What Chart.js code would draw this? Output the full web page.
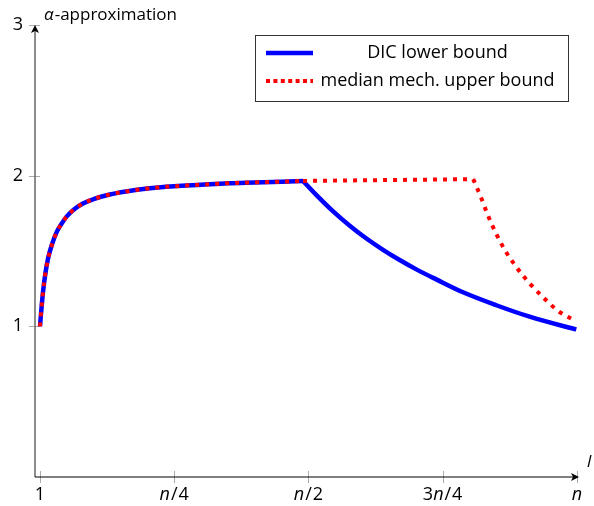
<!DOCTYPE html>
<html>
<head>
<meta charset="utf-8">
<script src="https://cdn.jsdelivr.net/npm/chart.js@4.4.1/dist/chart.umd.min.js"></script>
<style>
  html, body { margin: 0; padding: 0; background: #fff; }
</style>
</head>
<body>
<canvas id="chart" width="594" height="506"></canvas>
<script>
// x runs from 1 (0) to n (1); both bounds share the rising part
const riseX = [0, 0.003, 0.006, 0.01, 0.015, 0.022, 0.031, 0.04, 0.05, 0.065, 0.08, 0.1, 0.13, 0.16, 0.2, 0.25, 0.3, 0.35, 0.4, 0.45, 0.49];
const riseY = [1.0, 1.13, 1.24, 1.35, 1.45, 1.54, 1.625, 1.68, 1.73, 1.78, 1.815, 1.845, 1.875, 1.895, 1.915, 1.93, 1.94, 1.95, 1.955, 1.96, 1.965];
// DIC lower bound after the peak
const lowerFallX = [0.49, 0.515, 0.546, 0.577, 0.608, 0.639, 0.67, 0.701, 0.739, 0.788, 0.85, 0.912, 0.974, 0.999];
const lowerFallY = [1.965, 1.871, 1.763, 1.668, 1.583, 1.508, 1.44, 1.378, 1.31, 1.226, 1.14, 1.064, 1.002, 0.98];
// median mechanism upper bound after the peak
const upperFlatX = [0.49, 0.65, 0.807];
const upperFlatY = [1.965, 1.971, 1.977];
const upperFallX = [0.807, 0.821, 0.834, 0.849, 0.867, 0.888, 0.912, 0.938, 0.966, 0.998];
const upperFallY = [1.977, 1.86, 1.74, 1.62, 1.50, 1.39, 1.285, 1.19, 1.10, 1.035];

const seriesNames = ['DIC lower bound', 'median mech. upper bound'];
const xTickValues = [0, 0.25, 0.5, 0.75, 1];
const xTickLabels = ['1', 'n/4', 'n/2', '3n/4', 'n'];
const yTickValues = [1, 2, 3];
const yAxisTitle = ['α', '-approximation'];
const xAxisTitle = 'l';

const FONT = '"Open Sans", sans-serif';
const BLUE = '#0000ff';
const RED = '#ff0000';

function toPoints(xs, ys) {
  return xs.map((v, i) => ({ x: v, y: ys[i] }));
}

function lowerSet(xs, ys) {
  return {
    label: seriesNames[0],
    data: toPoints(xs, ys),
    borderColor: BLUE,
    borderWidth: 4.5,
    borderJoinStyle: 'round',
    pointRadius: 0,
    fill: false,
    cubicInterpolationMode: 'monotone',
    order: 1
  };
}

function upperSet(xs, ys) {
  return {
    label: seriesNames[1],
    data: toPoints(xs, ys),
    borderColor: RED,
    borderWidth: 4,
    borderDash: [4, 6],
    borderCapStyle: 'butt',
    pointRadius: 0,
    fill: false,
    cubicInterpolationMode: 'monotone',
    order: 0
  };
}

function arrowHead(ctx, x, y, dir) {
  ctx.save();
  ctx.translate(x, y);
  if (dir === 'up') ctx.rotate(-Math.PI / 2);
  ctx.fillStyle = '#000';
  ctx.beginPath();
  ctx.moveTo(0, 0);
  ctx.lineTo(-8, -4);
  ctx.lineTo(-6, 0);
  ctx.lineTo(-8, 4);
  ctx.closePath();
  ctx.fill();
  ctx.restore();
}

// label with every "n" in italic
function mixedLabel(ctx, text, cx, cy) {
  const parts = text.split('').map(ch => ({ ch: ch, it: ch === 'n' }));
  const fontFor = p => (p.it ? 'italic ' : '') + '18px ' + FONT;
  let w = 0;
  parts.forEach(p => { ctx.font = fontFor(p); p.w = ctx.measureText(p.ch).width + (p.ch === '/' ? 2 : 0); w += p.w; });
  let px = cx - w / 2;
  ctx.textAlign = 'left';
  ctx.textBaseline = 'middle';
  parts.forEach(p => {
    ctx.font = fontFor(p);
    ctx.fillText(p.ch, px + (p.ch === '/' ? 1 : 0), cy);
    px += p.w;
  });
}

const axesPlugin = {
  id: 'axesPlugin',
  beforeDatasetsDraw(chart) {
    const { ctx, chartArea: a, scales: { x, y } } = chart;
    const yBase = y.getPixelForValue(0);
    const xBase = a.left;
    ctx.save();

    // tick marks crossing the axes
    ctx.strokeStyle = '#aaa';
    ctx.lineWidth = 1;
    xTickValues.forEach(v => {
      const px = Math.round(x.getPixelForValue(v)) + 0.5;
      ctx.beginPath(); ctx.moveTo(px, yBase - 6); ctx.lineTo(px, yBase + 6); ctx.stroke();
    });
    yTickValues.forEach(v => {
      const py = Math.round(y.getPixelForValue(v)) + 0.5;
      ctx.beginPath(); ctx.moveTo(xBase - 6, py); ctx.lineTo(xBase + 5, py); ctx.stroke();
    });

    // axis lines
    ctx.strokeStyle = '#666';
    ctx.lineWidth = 1.5;
    ctx.beginPath(); ctx.moveTo(xBase, yBase); ctx.lineTo(xBase, a.top + 2); ctx.stroke();
    ctx.strokeStyle = '#000';
    ctx.lineWidth = 1.2;
    ctx.beginPath(); ctx.moveTo(xBase, yBase); ctx.lineTo(a.right - 2, yBase); ctx.stroke();
    arrowHead(ctx, a.right, yBase, 'right');
    arrowHead(ctx, xBase, a.top, 'up');

    // x tick labels
    ctx.fillStyle = '#000';
    xTickValues.forEach((v, i) => {
      mixedLabel(ctx, xTickLabels[i], x.getPixelForValue(v), yBase + 18);
    });

    // axis titles
    ctx.textAlign = 'left';
    ctx.textBaseline = 'middle';
    ctx.font = 'italic 17px ' + FONT;
    ctx.fillText(yAxisTitle[0], xBase + 9, a.top - 10);
    const aw = ctx.measureText(yAxisTitle[0]).width;
    ctx.font = '17px ' + FONT;
    ctx.fillText(yAxisTitle[1], xBase + 9 + aw + 1, a.top - 10);
    ctx.font = 'italic 17px ' + FONT;
    ctx.fillText(xAxisTitle, a.right + 8, yBase - 15);
    ctx.restore();
  },
  afterDraw(chart) {
    const { ctx } = chart;
    ctx.save();
    ctx.fillStyle = '#fff';
    ctx.fillRect(255, 35, 313, 66);
    ctx.strokeStyle = '#333';
    ctx.lineWidth = 1;
    ctx.strokeRect(255.5, 35.5, 313, 66);
    const rows = [53, 81];
    const styles = [
      { color: BLUE, width: 4.5, dash: [] },
      { color: RED, width: 4, dash: [4, 3.4] }
    ];
    seriesNames.forEach((name, r) => {
      const s = styles[r];
      const ry = rows[r];
      ctx.strokeStyle = s.color;
      ctx.lineWidth = s.width;
      ctx.setLineDash(s.dash);
      ctx.beginPath(); ctx.moveTo(266, ry); ctx.lineTo(313, ry); ctx.stroke();
      ctx.setLineDash([]);
      ctx.fillStyle = '#000';
      ctx.font = '18px ' + FONT;
      ctx.textAlign = 'center';
      ctx.textBaseline = 'middle';
      ctx.fillText(name, 437.5, ry);
    });
    ctx.restore();
  }
};

const ctx = document.getElementById('chart').getContext('2d');
const chart = new Chart(ctx, {
  type: 'line',
  data: {
    datasets: [
      upperSet(riseX, riseY),
      upperSet(upperFlatX, upperFlatY),
      upperSet(upperFallX, upperFallY),
      lowerSet(riseX, riseY),
      lowerSet(lowerFallX, lowerFallY)
    ]
  },
  options: {
    responsive: false,
    animation: false,
    devicePixelRatio: 1,
    layout: { padding: { left: 0, top: 25, right: 15, bottom: 29 } },
    plugins: { legend: { display: false }, tooltip: { enabled: false } },
    scales: {
      x: {
        type: 'linear',
        display: false,
        min: -0.0093,
        max: 1.004
      },
      y: {
        type: 'linear',
        min: 0,
        max: 3,
        afterBuildTicks: scale => { scale.ticks = yTickValues.map(v => ({ value: v })); },
        afterFit: scale => { scale.width = 35; },
        ticks: {
          callback: v => String(v),
          color: '#000',
          font: { family: FONT, size: 18 },
          padding: 12
        },
        grid: { display: false, drawTicks: false },
        border: { display: false }
      }
    }
  },
  plugins: [axesPlugin]
});
</script>
</body>
</html>
